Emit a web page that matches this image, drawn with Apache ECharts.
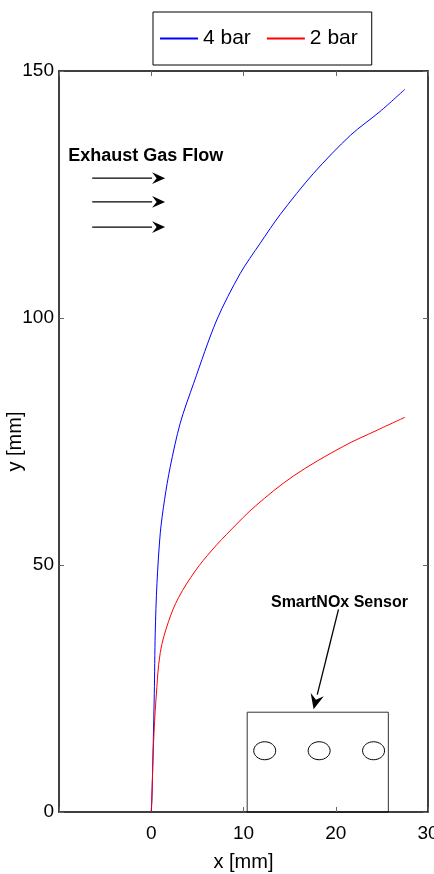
<!DOCTYPE html>
<html>
<head>
<meta charset="utf-8">
<script src="https://cdn.jsdelivr.net/npm/echarts@6/dist/echarts.min.js"></script>
<style>
    html,body{margin:0;padding:0;background:#fff;}
    #main{width:434px;height:874px;}
</style>
</head>
<body>
<div id="main"></div>
<script>
    // 4 bar 曲线 [x, y] (mm)
    const bar4 = [
        [0, 0], [0.07, 2.4], [0.33, 24], [0.43, 36.2], [0.62, 46.3], [0.98, 56.5],
        [1.44, 63.2], [2.06, 69.9], [3.14, 78.7], [4.6, 86.8], [7.1, 99.6],
        [9.64, 109], [11.8, 115.1], [14.0, 121.0], [17.6, 129.3], [21.6, 137],
        [24.8, 141.8], [27.5, 146.3]
    ]
    // 2 bar 曲线
    const bar2 = [
        [0, 0], [0.1, 5], [0.25, 14], [0.51, 22.7], [0.98, 32.3], [1.88, 38.6],
        [2.96, 43.4], [4.77, 48.8], [6.58, 53.0], [8.74, 57.3], [11.27, 61.9],
        [15.4, 68.0], [20.8, 74], [24.5, 77.3], [27.5, 79.9]
    ]
    const seriesNames = ['4 bar', '2 bar']
    const xTicks = [-10, 0, 10, 20, 30]
    const yTicks = [0, 50, 100, 150]

    const font = 'Liberation Sans Narrow, Liberation Sans, sans-serif'
    const chart = echarts.init(document.getElementById('main'))

    const axisBase = {
        type: 'value',
        axisLine: {show: true, onZero: false, lineStyle: {color: '#000', width: 1.5}},
        axisTick: {show: true, inside: true, length: 5, lineStyle: {color: '#666'}},
        splitLine: {show: false}
    }

    chart.setOption({
        animation: false,
        grid: {left: 59, right: 6, top: 71, bottom: 62, containLabel: false, outerBoundsMode: 'none'},
        legend: {
            data: seriesNames,
            left: 153, top: 12,
            padding: [16, 14, 16, 7],
            itemGap: 16, itemWidth: 38, itemHeight: 2, icon: 'rect',
            borderColor: '#000', borderWidth: 1,
            textStyle: {fontSize: 21, color: '#000', fontFamily: 'Liberation Sans, sans-serif'}
        },
        xAxis: [
            Object.assign({}, axisBase, {
                min: xTicks[0], max: xTicks[xTicks.length - 1], interval: 10,
                name: 'x [mm]', nameLocation: 'middle', nameGap: 40,
                nameTextStyle: {fontSize: 20, color: '#000', fontFamily: font},
                axisLabel: {
                    fontSize: 19, color: '#000', fontFamily: font, margin: 12,
                    formatter: v => v === xTicks[0] ? '' : String(v)
                }
            }),
            Object.assign({}, axisBase, {
                position: 'top', min: xTicks[0], max: xTicks[xTicks.length - 1], interval: 10,
                axisLabel: {show: false}
            })
        ],
        yAxis: [
            Object.assign({}, axisBase, {
                min: yTicks[0], max: yTicks[yTicks.length - 1], interval: 50,
                name: 'y [mm]', nameLocation: 'middle', nameGap: 34, nameMoveOverlap: false,
                nameTextStyle: {fontSize: 20, color: '#000', fontFamily: font},
                axisLabel: {fontSize: 19, color: '#000', fontFamily: font, margin: 5}
            }),
            Object.assign({}, axisBase, {
                position: 'right', min: yTicks[0], max: yTicks[yTicks.length - 1], interval: 50,
                axisLabel: {show: false}
            })
        ],
        series: [
            {name: seriesNames[0], type: 'line', data: bar4, showSymbol: false, smooth: 0.3,
             lineStyle: {color: '#0000ff', width: 1}, itemStyle: {color: '#0000ff'}},
            {name: seriesNames[1], type: 'line', data: bar2, showSymbol: false, smooth: 0.35,
             lineStyle: {color: '#ff0000', width: 1}, itemStyle: {color: '#ff0000'}}
        ]
    })

    // 注释：箭头、传感器框（数据坐标 -> 像素）
    const px = p => chart.convertToPixel({xAxisIndex: 0, yAxisIndex: 0}, p)
    const arrow = (a, b, head) => {
        const ang = Math.atan2(b[1] - a[1], b[0] - a[0])
        const back = [b[0] - head * Math.cos(ang), b[1] - head * Math.sin(ang)]
        const n = [-Math.sin(ang) * head * 0.45, Math.cos(ang) * head * 0.45]
        return [
            {type: 'line', shape: {x1: a[0], y1: a[1], x2: back[0], y2: back[1]},
             style: {stroke: '#000', lineWidth: 1.3}},
            {type: 'polygon', shape: {points: [b, [back[0] + n[0], back[1] + n[1]],
                [back[0] + head * 0.35 * Math.cos(ang), back[1] + head * 0.35 * Math.sin(ang)],
                [back[0] - n[0], back[1] - n[1]]]},
             style: {fill: '#000'}}
        ]
    }

    const g = []
    const flowTxt = px([-9.0, 128.3 + 4.4])
    g.push({type: 'text', x: flowTxt[0], y: flowTxt[1],
        style: {text: 'Exhaust Gas Flow', font: 'bold 18px Liberation Sans, sans-serif', fill: '#000', textVerticalAlign: 'middle'}})
    ;[128.3, 123.5, 118.4].forEach(y => {
        g.push(...arrow(px([-6.4, y]), px([1.5, y]), 13))
    })

    const boxTL = px([10.4, 20.2]), boxBR = px([25.7, 0])
    g.push({type: 'rect', shape: {x: boxTL[0], y: boxTL[1], width: boxBR[0] - boxTL[0], height: boxBR[1] - boxTL[1]},
        style: {fill: 'none', stroke: '#333', lineWidth: 1}})
    ;[12.3, 18.2, 24.1].forEach(x => {
        const c = px([x, 12.4])
        g.push({type: 'ellipse', shape: {cx: c[0], cy: c[1], rx: 11, ry: 9},
            style: {fill: 'none', stroke: '#000', lineWidth: 1}})
    })
    const sTxt = px([20.4, 42.4])
    g.push({type: 'text', x: sTxt[0], y: sTxt[1],
        style: {text: 'SmartNOx Sensor', font: 'bold 16px Liberation Sans, sans-serif', fill: '#000', textAlign: 'center', textVerticalAlign: 'middle'}})
    g.push(...arrow(px([20.3, 41]), px([17.6, 20.8]), 15))

    chart.setOption({graphic: g})
</script>
</body>
</html>
